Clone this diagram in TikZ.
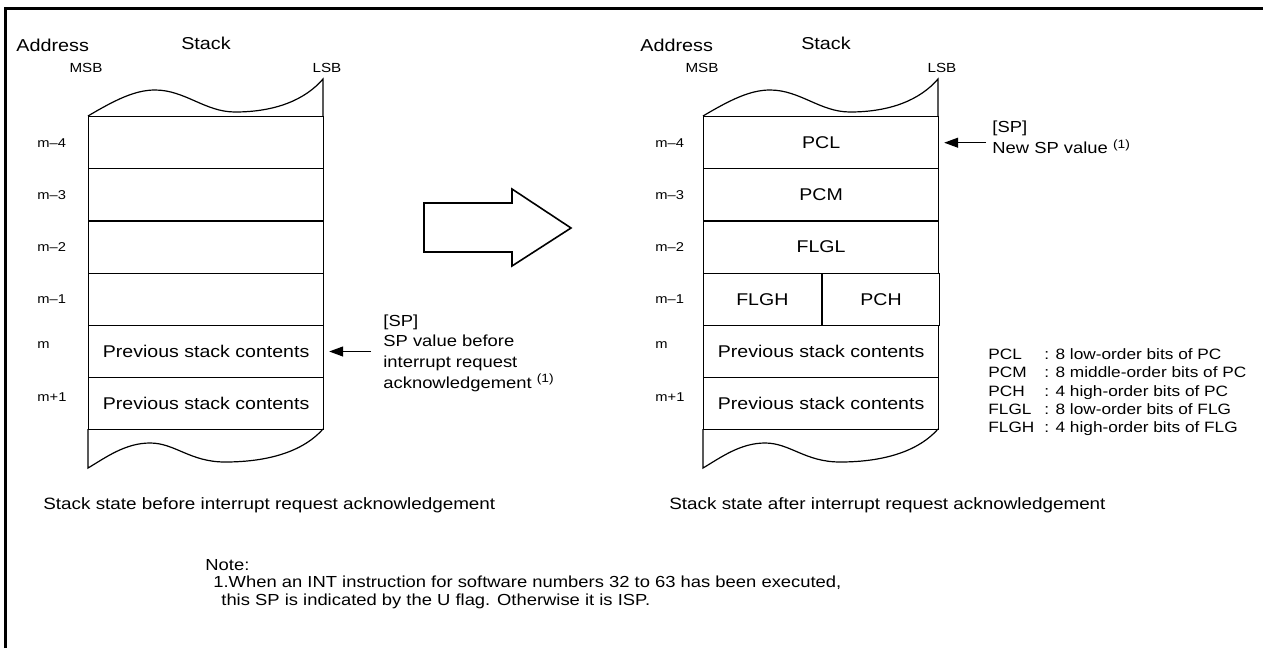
\documentclass[tikz,border=0pt]{standalone}
\usepackage{fontspec}
\setmainfont[FakeStretch=1.15]{Liberation Sans}
\usetikzlibrary{positioning,arrows.meta,calc}

\tikzset{
  cell/.style={draw, line width=0.6pt, minimum width=117.5pt, minimum height=26.1pt,
    inner sep=0pt, anchor=north west, font=\fontsize{8.5}{10}\selectfont},
  head/.style={font=\fontsize{8.6}{10}\selectfont, inner sep=0pt},
  bits/.style={font=\fontsize{6.6}{7}\selectfont, inner sep=0pt},
  addr/.style={font=\fontsize{6.4}{7}\selectfont, inner sep=0pt, anchor=west},
  sptext/.style={font=\fontsize{8}{10.4}\selectfont, inner sep=0pt, align=left, anchor=north west},
  caption/.style={font=\fontsize{8.2}{10}\selectfont, inner sep=0pt, anchor=west},
  notes/.style={font=\fontsize{8}{9}\selectfont, inner sep=0pt, anchor=west},
  legend/.style={font=\fontsize{7.5}{9.2}\selectfont, inner sep=0pt, anchor=north west},
  outline/.style={line width=0.6pt},
}

\begin{document}
\begin{tikzpicture}[x=0.5pt, y=-0.5pt, >={Triangle[length=7pt,width=5pt]}]
\useasboundingbox (0,0) rectangle (1263,648);

% Frame (top and left edge only)
\draw[line width=1.5pt] (5,648) -- (5,8) -- (1263,8);

% Torn top and bottom of both stacks
\foreach \dx in {0,615} {
  \draw[outline] ({88+\dx},116) .. controls ({115+\dx},100) and ({135+\dx},90) .. ({155+\dx},90)
    .. controls ({185+\dx},90) and ({205+\dx},112) .. ({235+\dx},112)
    .. controls ({275+\dx},112) and ({305+\dx},100) .. ({323+\dx},79) -- ({323+\dx},116);
  \draw[outline] ({323+\dx},429) .. controls ({300+\dx},455) and ({260+\dx},462) .. ({225+\dx},462)
    .. controls ({190+\dx},462) and ({175+\dx},443) .. ({150+\dx},443)
    .. controls ({125+\dx},443) and ({105+\dx},458) .. ({88+\dx},468) -- ({88+\dx},429);
}

% Stack before
\foreach \k/\txt in {0/,1/,2/,3/,4/Previous stack contents,5/Previous stack contents}
  \node[cell] (L\k) at (88,{116+52.2*\k}) {\txt};

% Stack after
\foreach \k/\txt in {0/PCL,1/PCM,2/FLGL,4/Previous stack contents,5/Previous stack contents}
  \node[cell] (R\k) at (703,{116+52.2*\k}) {\txt};
\node[cell, minimum width=58.75pt] (R3a) at (703,272.6) {FLGH};
\node[cell, minimum width=58.75pt] (R3b) at (R3a.north east) {PCH};

% Addresses
\foreach \k/\lab/\yy in {0/m--4/143,1/m--3/195,2/m--2/247,3/m--1/299,4/m/345,5/m+1/397} {
  \node[addr] (aL\k) at (37,\yy) {\lab};
  \node[addr] (aR\k) at (655,\yy) {\lab};
}

% Headings
\node[head, anchor=west] (addrL) at (16,45) {Address};
\node[head] (stackL) at (206,43) {Stack};
\node[bits] (msbL) at (86,68) {MSB};
\node[bits] (lsbL) at (327,68) {LSB};
\node[head, anchor=west] (addrR) at (640,45) {Address};
\node[head] (stackR) at (826,43) {Stack};
\node[bits] (msbR) at (702,68) {MSB};
\node[bits] (lsbR) at (942,68) {LSB};

% Stack pointer arrows
\coordinate[right=23.5pt of L4] (spL);
\draw[->, outline] (spL) -- ([xshift=2.5pt]L4.east);
\node[sptext] (spLtxt) at (383,314) {[SP]\\SP value before\\interrupt request\\acknowledgement \textsuperscript{(1)}};

\coordinate[right=23.5pt of R0] (spR);
\draw[->, outline] (spR) -- ([xshift=2.5pt]R0.east);
\node[sptext] (spRtxt) at (992,121) {[SP]\\New SP value \textsuperscript{(1)}};

% Big transition arrow
\draw[line width=0.8pt] (424,203) -- (512,203) -- (512,189) -- (571,228) -- (512,266)
  -- (512,252) -- (424,252) -- cycle;

% Legend
\node[legend] (leg) at (988,346) {\begin{tabular}{@{}l@{\hspace{5pt}}l@{}}
PCL & : 8 low-order bits of PC\\
PCM & : 8 middle-order bits of PC\\
PCH & : 4 high-order bits of PC\\
FLGL & : 8 low-order bits of FLG\\
FLGH & : 4 high-order bits of FLG
\end{tabular}};

% Captions
\node[caption] (capL) at (43,505) {Stack state before interrupt request acknowledgement};
\node[caption] (capR) at (669,505) {Stack state after interrupt request acknowledgement};

% Note
\node[notes] (note) at (205,565) {Note:};
\node[notes] (note1) at (213,583) {1.When an INT instruction for software numbers 32 to 63 has been executed,};
\node[notes] (note2) at (221,601) {this SP is indicated by the U flag. Otherwise it is ISP.};

\end{tikzpicture}
\end{document}
